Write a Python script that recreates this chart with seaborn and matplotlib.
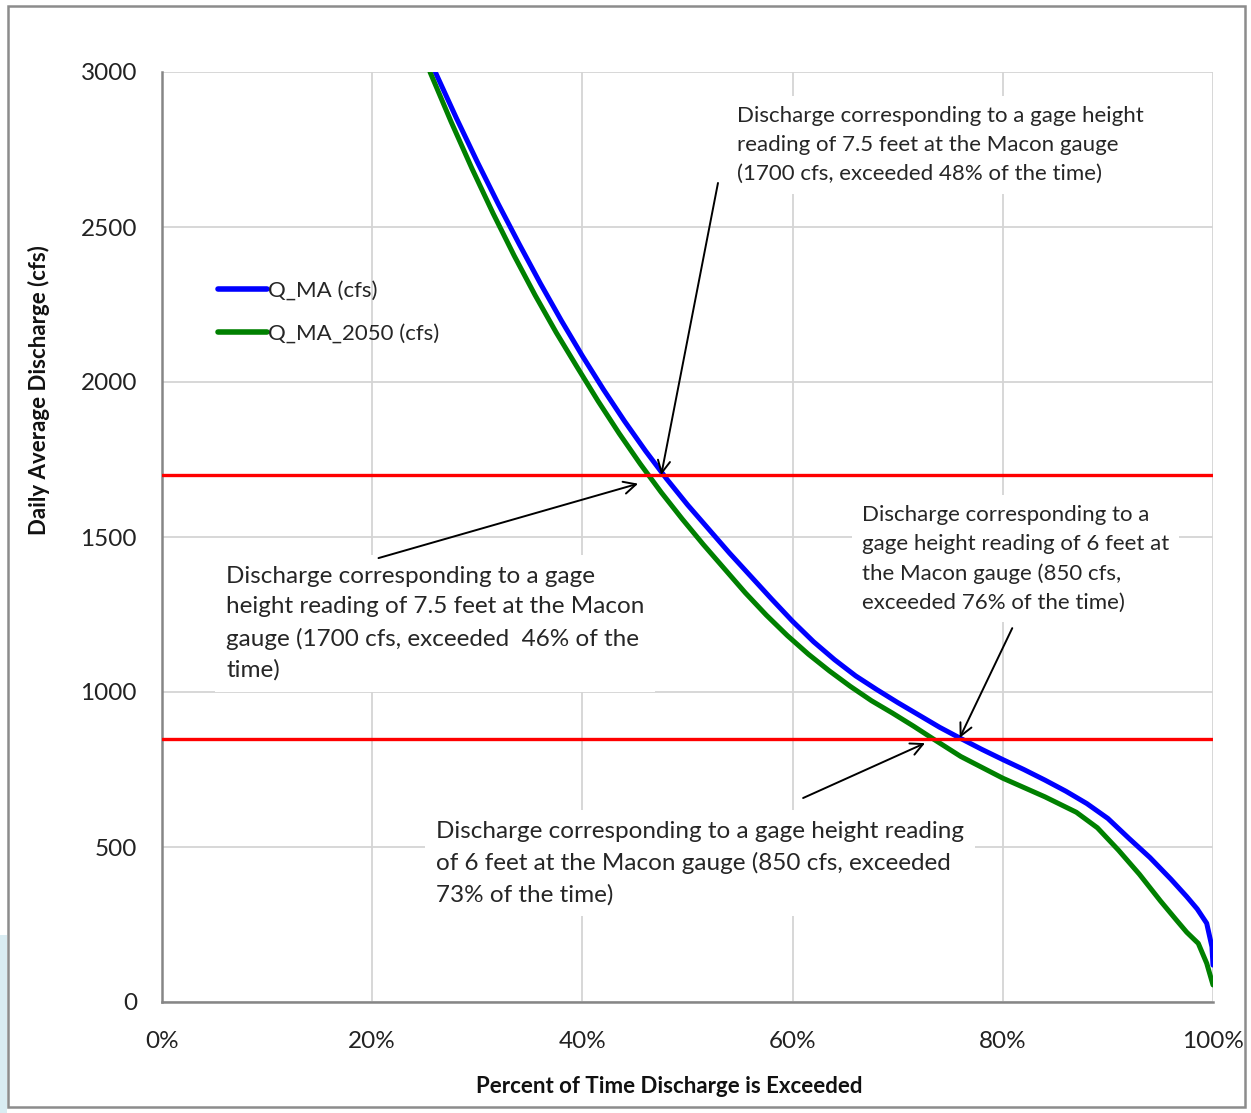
import matplotlib
matplotlib.use("Agg")
import matplotlib.pyplot as plt
import matplotlib.patches as mpatches
from matplotlib.ticker import MultipleLocator, PercentFormatter
from matplotlib.lines import Line2D
import seaborn as sns
import pandas as pd

# ---- data ----
pct_ma = [26.0, 28.0, 30.0, 32.0, 34.0, 36.0, 38.0, 40.0, 42.0, 44.0, 46.0, 48.0,
          50.0, 52.0, 54.0, 56.0, 58.0, 60.0, 62.0, 64.0, 66.0, 68.0, 70.0, 72.0,
          74.0, 76.0, 78.0, 80.0, 82.0, 84.0, 86.0, 88.0, 90.0, 92.0, 94.0, 96.0,
          97.5, 98.5, 99.4, 99.9, 100.0]
q_ma = [3000, 2852, 2710, 2574, 2444, 2318, 2198, 2084, 1976, 1874, 1778, 1688,
        1604, 1526, 1448, 1374, 1300, 1228, 1162, 1104, 1052, 1008, 966, 926,
        886, 850, 815, 782, 750, 716, 680, 640, 592, 528, 466, 396,
        340, 300, 254, 178, 119]

pct_ma2050 = [25.5, 27.5, 29.5, 31.5, 33.5, 35.5, 37.5, 39.5, 41.5, 43.5, 45.5, 47.5,
              49.5, 51.5, 53.5, 55.5, 57.5, 59.5, 61.5, 63.5, 65.5, 67.5, 69.5, 71.5,
              73.5, 76.0, 80.0, 84.0, 87.0, 89.0, 91.0, 93.0, 95.0, 96.5, 97.5, 98.6,
              99.4, 100.0]
q_ma2050 = [3000, 2840, 2688, 2544, 2408, 2280, 2160, 2048, 1938, 1834, 1736, 1644,
            1558, 1476, 1398, 1320, 1248, 1182, 1122, 1068, 1018, 972, 932, 890,
            846, 792, 722, 662, 612, 562, 490, 412, 326, 265, 225, 189,
            125, 55]

series_names = ["Q_MA (cfs)", "Q_MA_2050 (cfs)"]
series_colors = ["#0000ff", "#008000"]
threshold_values = [1700, 850]

annot_texts = [
    "Discharge corresponding to a gage height\nreading of 7.5 feet at the Macon gauge\n(1700 cfs, exceeded 48% of the time)",
    "Discharge corresponding to a gage\nheight reading of 7.5 feet at the Macon\ngauge (1700 cfs, exceeded  46% of the\ntime)",
    "Discharge corresponding to a\ngage height reading of 6 feet at\nthe Macon gauge (850 cfs,\nexceeded 76% of the time)",
    "Discharge corresponding to a gage height reading\nof 6 feet at the Macon gauge (850 cfs, exceeded\n73% of the time)",
]
annot_sizes = [16, 17.5, 16, 17.5]
annot_text_xy = [(54.7, 2890), (6.1, 1406), (66.6, 1603), (26.1, 583)]
annot_tail_xy = [(52.9, 2642), (20.6, 1432), (80.9, 1206), (61.0, 658)]
annot_tip_xy = [(47.5, 1700), (45.3, 1672), (75.9, 852), (72.6, 835)]

x_label = "Percent of Time Discharge is Exceeded"
y_label = "Daily Average Discharge (cfs)"

# ---- build frame ----
df = pd.concat([
    pd.DataFrame({"pct": pct_ma, "Q": q_ma, "series": series_names[0]}),
    pd.DataFrame({"pct": pct_ma2050, "Q": q_ma2050, "series": series_names[1]}),
], ignore_index=True)

sns.set_theme(style="white")
FONT = ["Lato", "DejaVu Sans"]
plt.rcParams["font.family"] = FONT

fig = plt.figure(figsize=(12.51, 11.13), dpi=100)
ax = fig.add_axes([162 / 1251, 1 - 1002 / 1113, (1213 - 162) / 1251, (1002 - 72) / 1113])

# outer border and left edge artefact
fig.patches.append(mpatches.Rectangle((8 / 1251, 1 - 1107 / 1113), (1245 - 8) / 1251, (1107 - 6) / 1113,
                                      transform=fig.transFigure, fill=False,
                                      edgecolor="#8c8c8c", linewidth=1.8, zorder=0))
fig.patches.append(mpatches.Rectangle((0, 0), 7 / 1251, (1113 - 935) / 1113,
                                      transform=fig.transFigure, facecolor="#d9ecf2",
                                      edgecolor="none", zorder=0))

sns.lineplot(data=df, x="pct", y="Q", hue="series", palette=series_colors,
             estimator=None, sort=False, linewidth=3.6, ax=ax, legend=False, zorder=4)
for ln in ax.get_lines():
    ln.set_solid_joinstyle("round")
    ln.set_solid_capstyle("round")

for v in threshold_values:
    ax.axhline(v, color="#ff0000", linewidth=2.4, zorder=5)

ax.set_xlim(0, 100)
ax.set_ylim(0, 3000)
ax.xaxis.set_major_locator(MultipleLocator(20))
ax.xaxis.set_minor_locator(MultipleLocator(4))
ax.yaxis.set_major_locator(MultipleLocator(500))
ax.yaxis.set_minor_locator(MultipleLocator(100))
ax.xaxis.set_major_formatter(PercentFormatter(xmax=100, decimals=0))

ax.grid(True, which="major", color="#d4d4d4", linewidth=1.3)
ax.set_axisbelow(True)
for s in ["top", "right"]:
    ax.spines[s].set_visible(False)
for s in ["left", "bottom"]:
    ax.spines[s].set_color("#868686")
    ax.spines[s].set_linewidth(1.8)

ax.tick_params(axis="both", which="major", length=0, labelsize=17.5, labelcolor="#222222")
ax.tick_params(axis="x", which="major", pad=21)
ax.tick_params(axis="y", which="major", pad=18)
ax.tick_params(axis="both", which="minor", direction="in", length=6, width=1.3, color="#868686")

ax.set_xlabel(x_label, fontsize=16, fontweight="bold", color="#111111")
ax.set_ylabel(y_label, fontsize=16, fontweight="bold", color="#111111")
ax.xaxis.set_label_coords(0.483, -0.080)
ax.yaxis.set_label_coords(-0.107, 0.658)

# annotations
for txt, fs, txy, tail, tip in zip(annot_texts, annot_sizes, annot_text_xy, annot_tail_xy, annot_tip_xy):
    ax.text(txy[0], txy[1], txt, fontsize=fs, color="#262626", ha="left", va="top",
            linespacing=1.55, zorder=2.5,
            bbox=dict(boxstyle="square,pad=0.45", facecolor="white", edgecolor="none"))
    ax.annotate("", xy=tip, xytext=tail,
                arrowprops=dict(arrowstyle="->", color="black", lw=1.4,
                                mutation_scale=22, shrinkA=0, shrinkB=0),
                zorder=6)

handles = [Line2D([0], [0], color=c, linewidth=4) for c in series_colors]
leg = ax.legend(handles, series_names, loc="upper left", bbox_to_anchor=(0.034, 0.797),
                frameon=False, fontsize=16, handlelength=2.2, handletextpad=0.05,
                labelspacing=1.05, labelcolor="#262626")

fig.savefig("out.png", dpi=100, facecolor="white")
